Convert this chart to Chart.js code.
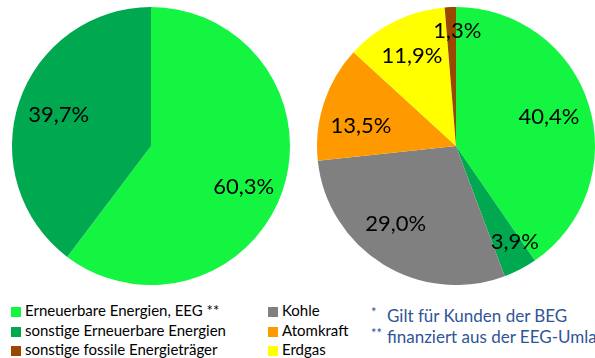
<!DOCTYPE html>
<html>
<head>
<meta charset="utf-8">
<script src="https://cdn.jsdelivr.net/npm/chart.js@4.4.1/dist/chart.umd.min.js"></script>
<style>
    body { margin: 0; background: #fff; }
    #page { position: relative; width: 595px; height: 358px; overflow: hidden; font-family: Lato, 'Open Sans', sans-serif; }
    .pie { position: absolute; top: 7px; width: 278px; height: 278px; }
    #pieLeft { left: 12px; }
    #pieRight { left: 317px; }
    .legend { position: absolute; top: 301px; font-size: 15px; color: #000; }
    .legend div { height: 19.5px; line-height: 19.5px; white-space: nowrap; }
    .legend span.box { display: inline-block; width: 10px; height: 10px; margin-right: 4px; vertical-align: -1px; }
    #notes { position: absolute; left: 371px; top: 305px; color: #2F5597; font-size: 17px; white-space: nowrap; }
    #notes div { height: 21px; line-height: 21px; }
    #notes sup { font-size: 13px; display: inline-block; width: 16px; vertical-align: 5px; line-height: 10px; }
</style>
</head>
<body>
<div id="page">
    <div class="pie" id="pieLeft"><canvas id="chartLeft"></canvas></div>
    <div class="pie" id="pieRight"><canvas id="chartRight"></canvas></div>
    <div class="legend" id="legendA" style="left: 11px;"></div>
    <div class="legend" id="legendB" style="left: 268px;"></div>
    <div id="notes"></div>
</div>
<script>
// Anteile in Prozent
const leftLabels = ['Erneuerbare Energien, EEG **', 'sonstige Erneuerbare Energien'];
const leftValues = [60.3, 39.7];

const rightLabels = ['Erneuerbare Energien, EEG **', 'sonstige Erneuerbare Energien', 'Kohle', 'Atomkraft', 'Erdgas', 'sonstige fossile Energieträger'];
const rightValues = [40.4, 3.9, 29.0, 13.5, 11.9, 1.3];

const legendColumnA = ['Erneuerbare Energien, EEG **', 'sonstige Erneuerbare Energien', 'sonstige fossile Energieträger'];
const legendColumnB = ['Kohle', 'Atomkraft', 'Erdgas'];

const footnoteMarks = ['*', '**'];
const footnotes = ['Gilt für Kunden der BEG', 'finanziert aus der EEG-Umlage'];

const colors = {
    'Erneuerbare Energien, EEG **': '#14F542',
    'sonstige Erneuerbare Energien': '#00A84F',
    'Kohle': '#808080',
    'Atomkraft': '#FF9900',
    'Erdgas': '#FFFF00',
    'sonstige fossile Energieträger': '#9A4800'
};

// draws the "xx,x%" text inside each slice; place = [radius fraction, angle shift in degrees]
const sliceLabels = {
    id: 'sliceLabels',
    afterDatasetsDraw(chart, args, opts) {
        const ctx = chart.ctx;
        const meta = chart.getDatasetMeta(0);
        const values = chart.data.datasets[0].data;
        ctx.save();
        ctx.font = '22px Lato, "Open Sans", sans-serif';
        ctx.fillStyle = '#000';
        ctx.textAlign = 'center';
        ctx.textBaseline = 'middle';
        meta.data.forEach((arc, i) => {
            const p = opts.place[i] || [0.7, 0];
            const mid = (arc.startAngle + arc.endAngle) / 2 + p[1] * Math.PI / 180;
            const r = arc.outerRadius * p[0];
            const x = arc.x + Math.cos(mid) * r;
            const y = arc.y + Math.sin(mid) * r;
            ctx.fillText(values[i].toFixed(1).replace('.', ',') + '%', x, y);
        });
        ctx.restore();
    }
};

function makePie(canvasId, labels, values, place) {
    return new Chart(document.getElementById(canvasId), {
        type: 'pie',
        data: {
            labels: labels,
            datasets: [{
                data: values,
                backgroundColor: labels.map(l => colors[l]),
                borderWidth: 0
            }]
        },
        options: {
            responsive: true,
            maintainAspectRatio: false,
            animation: false,
            layout: { padding: 0 },
            plugins: {
                legend: { display: false },
                tooltip: { enabled: false },
                sliceLabels: { place: place }
            }
        },
        plugins: [sliceLabels]
    });
}

makePie('chartLeft', leftLabels, leftValues, [[0.73, 5.5], [0.70, 0]]);
makePie('chartRight', rightLabels, rightValues,
    [[0.70, 0], [0.81, -4], [0.71, 6], [0.70, -6], [0.72, 0], [0.83, 3]]);

// legend built from the same labels and colours
function fillLegend(id, items) {
    const el = document.getElementById(id);
    items.forEach(name => {
        const row = document.createElement('div');
        const box = document.createElement('span');
        box.className = 'box';
        box.style.background = colors[name];
        row.appendChild(box);
        row.appendChild(document.createTextNode(name));
        el.appendChild(row);
    });
}
fillLegend('legendA', legendColumnA);
fillLegend('legendB', legendColumnB);

const notes = document.getElementById('notes');
footnotes.forEach((text, i) => {
    const row = document.createElement('div');
    const sup = document.createElement('sup');
    sup.textContent = footnoteMarks[i];
    row.appendChild(sup);
    row.appendChild(document.createTextNode(text));
    notes.appendChild(row);
});
</script>
</body>
</html>
